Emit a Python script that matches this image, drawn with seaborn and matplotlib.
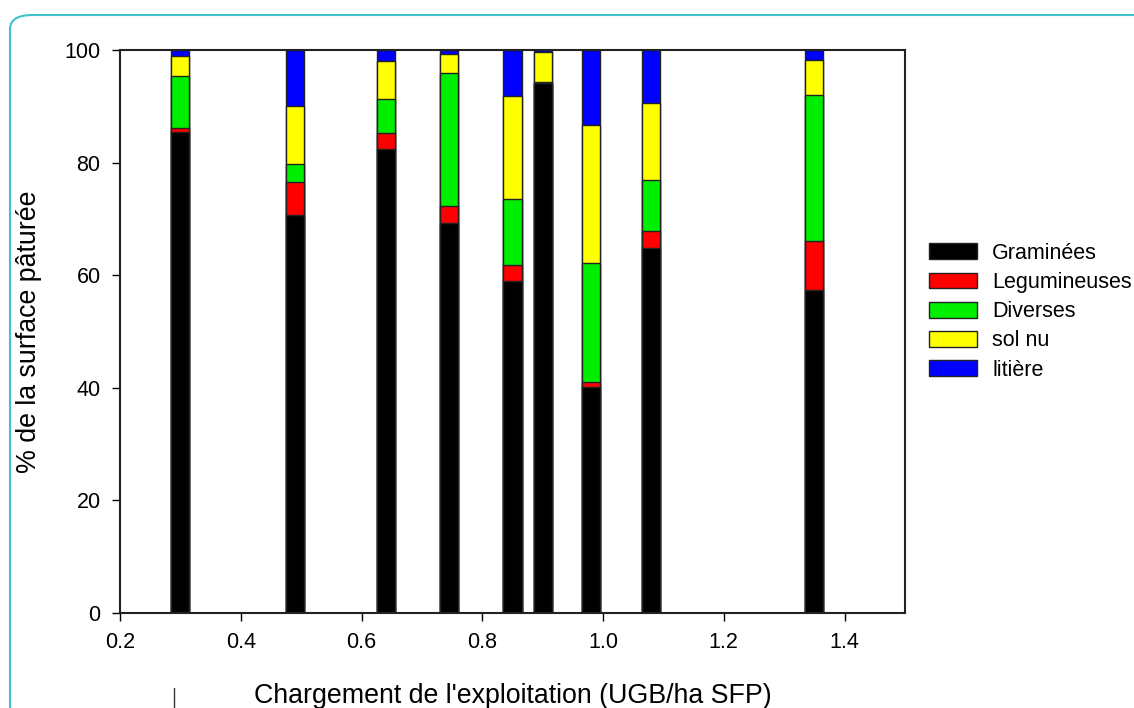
import numpy as np
import pandas as pd
import matplotlib
matplotlib.use("Agg")
import matplotlib.pyplot as plt
import seaborn as sns
from matplotlib.patches import Patch, FancyBboxPatch
from matplotlib.lines import Line2D

# Data
chargement = [0.30, 0.49, 0.64, 0.745, 0.85, 0.90, 0.98, 1.08, 1.35]
graminees = [85.5, 70.7, 82.5, 69.2, 59.0, 94.1, 40.1, 64.9, 57.4]
legumineuses = [0.6, 5.8, 2.8, 3.1, 2.8, 0.0, 1.0, 3.0, 8.7]
diverses = [9.2, 3.2, 6.0, 23.7, 11.7, 0.3, 21.0, 9.0, 25.9]
sol_nu = [3.7, 10.4, 6.8, 3.3, 18.4, 5.2, 24.6, 13.7, 6.2]
litiere = [1.0, 9.9, 1.9, 0.7, 8.1, 0.4, 13.3, 9.4, 1.8]

categories = ["Graminées", "Legumineuses", "Diverses", "sol nu", "litière"]
colors = ["#000000", "#ff0000", "#00ee00", "#ffff00", "#0000ff"]
series = [graminees, legumineuses, diverses, sol_nu, litiere]

sns.set_style("white")
plt.rcParams["font.family"] = ["Liberation Sans", "DejaVu Sans"]
plt.rcParams["text.color"] = "black"
plt.rcParams["axes.labelcolor"] = "black"
plt.rcParams["xtick.color"] = "black"
plt.rcParams["ytick.color"] = "black"

fig = plt.figure(figsize=(11.34, 7.08), dpi=100)
ax = fig.add_axes([0.1058, 0.1342, 0.6922, 0.7952])

cum = np.cumsum(np.array(series), axis=0)
for i in range(len(categories) - 1, -1, -1):
    df = pd.DataFrame({"x": chargement, "y": cum[i]})
    sns.barplot(data=df, x="x", y="y", native_scale=True, width=0.6,
                color=colors[i], saturation=1, edgecolor="#222222",
                linewidth=1.0, errorbar=None, ax=ax)

ax.set_xlim(0.2, 1.5)
ax.set_ylim(0, 100)
ax.set_xticks([0.2, 0.4, 0.6, 0.8, 1.0, 1.2, 1.4])
ax.set_xticklabels(["0.2", "0.4", "0.6", "0.8", "1.0", "1.2", "1.4"])
ax.set_yticks([0, 20, 40, 60, 80, 100])
ax.tick_params(axis="both", direction="out", length=6, width=1, labelsize=15.5,
               bottom=True, left=True, pad=8, colors="black")
for s in ax.spines.values():
    s.set_visible(True)
    s.set_color("#222222")
    s.set_linewidth(1.5)
ax.set_xlabel("Chargement de l'exploitation (UGB/ha SFP)", fontsize=19.3, labelpad=21)
ax.set_ylabel("% de la surface pâturée", fontsize=19.3, labelpad=16)

handles = [Patch(facecolor=c, edgecolor="#222222", linewidth=1.0) for c in colors]
fig.legend(handles, categories, loc="upper left", bbox_to_anchor=(0.819, 0.657),
           frameon=False, fontsize=15.5, handlelength=2.25, handleheight=0.75,
           labelspacing=0.38, handletextpad=0.7, borderaxespad=0, borderpad=0)

border = FancyBboxPatch((10 / 1134, -0.05), 1.2, 1.0 - 15 / 708 + 0.05,
                        boxstyle="round,pad=0,rounding_size=0.02",
                        transform=fig.transFigure, facecolor="none",
                        edgecolor="#3cc3cc", linewidth=1.5, clip_on=False)
fig.patches.append(border)
fig.lines.append(Line2D([174 / 1134, 174 / 1134], [0, 20 / 708],
                        transform=fig.transFigure, color="#333333", linewidth=1))

fig.savefig("out.png", dpi=100)
